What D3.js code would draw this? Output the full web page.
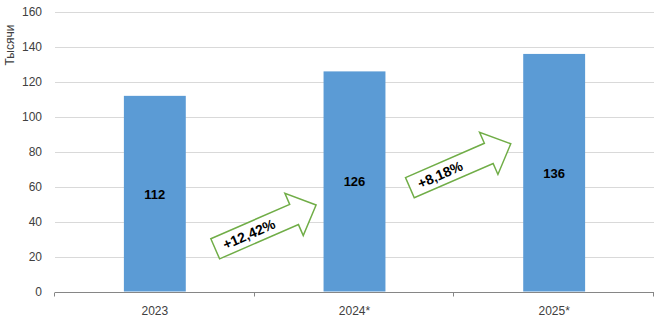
<!DOCTYPE html>
<html>
<head>
<meta charset="utf-8">
<script src="https://cdn.jsdelivr.net/npm/d3@7"></script>
<style>
  body { margin: 0; background: #fff; }
  svg { display: block; font-family: "Liberation Sans", Arial, sans-serif; }
</style>
</head>
<body>
<div id="chart"></div>
<script>
const years = ["2023", "2024*", "2025*"];
const values = [112, 126, 136];
const growth = ["+12,42%", "+8,18%"];
const yTicks = [0, 20, 40, 60, 80, 100, 120, 140, 160];

const width = 659, height = 323;
const margin = { top: 12, right: 5, bottom: 31.5, left: 55 };

const svg = d3.select("#chart").append("svg")
  .attr("width", width)
  .attr("height", height);

const x = d3.scaleBand()
  .domain(years)
  .range([margin.left, width - margin.right])
  .paddingInner(0.69)
  .paddingOuter(0.345);

const y = d3.scaleLinear()
  .domain([0, 160])
  .range([height - margin.bottom, margin.top]);

// gridlines
svg.append("g")
  .selectAll("line")
  .data(yTicks.slice(1))
  .enter().append("line")
  .attr("x1", margin.left)
  .attr("x2", width - margin.right)
  .attr("y1", d => Math.round(y(d)) + 0.5)
  .attr("y2", d => Math.round(y(d)) + 0.5)
  .attr("stroke", "#d9d9d9");

// y tick labels
svg.append("g")
  .selectAll("text")
  .data(yTicks)
  .enter().append("text")
  .attr("x", 42)
  .attr("y", d => y(d) + 4)
  .attr("text-anchor", "end")
  .attr("font-size", 12)
  .attr("fill", "#404040")
  .text(d => d);

svg.append("text")
  .attr("transform", "translate(14," + 45 + ") rotate(-90)")
  .attr("text-anchor", "middle")
  .attr("font-size", 12)
  .attr("fill", "#404040")
  .text("Тысячи");

// bars
svg.append("g")
  .selectAll("rect")
  .data(values)
  .enter().append("rect")
  .attr("x", (d, i) => x(years[i]))
  .attr("y", d => y(d))
  .attr("width", x.bandwidth())
  .attr("height", d => y(0) - y(d))
  .attr("fill", "#5b9bd5");

// bar labels
svg.append("g")
  .selectAll("text")
  .data(values)
  .enter().append("text")
  .attr("x", (d, i) => x(years[i]) + x.bandwidth() / 2)
  .attr("y", d => (y(d) + y(0)) / 2 + 5)
  .attr("text-anchor", "middle")
  .attr("font-size", 13)
  .attr("font-weight", "bold")
  .attr("fill", "#000")
  .text(d => d);

// x axis
const y0 = Math.round(y(0)) + 0.5;
const step = x.step();
svg.append("line")
  .attr("x1", margin.left)
  .attr("x2", width - margin.right)
  .attr("y1", y0).attr("y2", y0)
  .attr("stroke", "#868686");

svg.append("g")
  .selectAll("line")
  .data(d3.range(years.length + 1))
  .enter().append("line")
  .attr("x1", i => Math.round(margin.left + i * step) - 0.5)
  .attr("x2", i => Math.round(margin.left + i * step) - 0.5)
  .attr("y1", y0).attr("y2", y0 + 4)
  .attr("stroke", "#868686");

svg.append("g")
  .selectAll("text")
  .data(years)
  .enter().append("text")
  .attr("x", d => x(d) + x.bandwidth() / 2)
  .attr("y", 315)
  .attr("text-anchor", "middle")
  .attr("font-size", 12)
  .attr("fill", "#404040")
  .text(d => d);

// growth arrows between bars
const L = 110, hw = 11, hh = 23, hl = 24;
const arrowPath = [
  [-L / 2, -hw], [L / 2 - hl, -hw], [L / 2 - hl, -hh], [L / 2, 0],
  [L / 2 - hl, hh], [L / 2 - hl, hw], [-L / 2, hw]
];
const arrowAnchor = [37, 72]; // vertical position in data units
const arrows = svg.append("g")
  .selectAll("g")
  .data(growth)
  .enter().append("g")
  .attr("transform", (d, i) => {
    const cx = x(years[i]) + x.bandwidth() / 2 + step * (i === 0 ? 0.555 : 0.53);
    return "translate(" + cx + "," + y(arrowAnchor[i]) + ") rotate(-23.5)";
  });

arrows.append("path")
  .attr("d", d3.line()(arrowPath) + "Z")
  .attr("fill", "#fff")
  .attr("stroke", "#70ad47")
  .attr("stroke-width", 1.5);

arrows.append("text")
  .attr("x", -L / 2 + 9)
  .attr("y", 5)
  .attr("text-anchor", "start")
  .attr("font-size", 14)
  .attr("font-weight", "bold")
  .attr("fill", "#000")
  .text(d => d);
</script>
</body>
</html>
